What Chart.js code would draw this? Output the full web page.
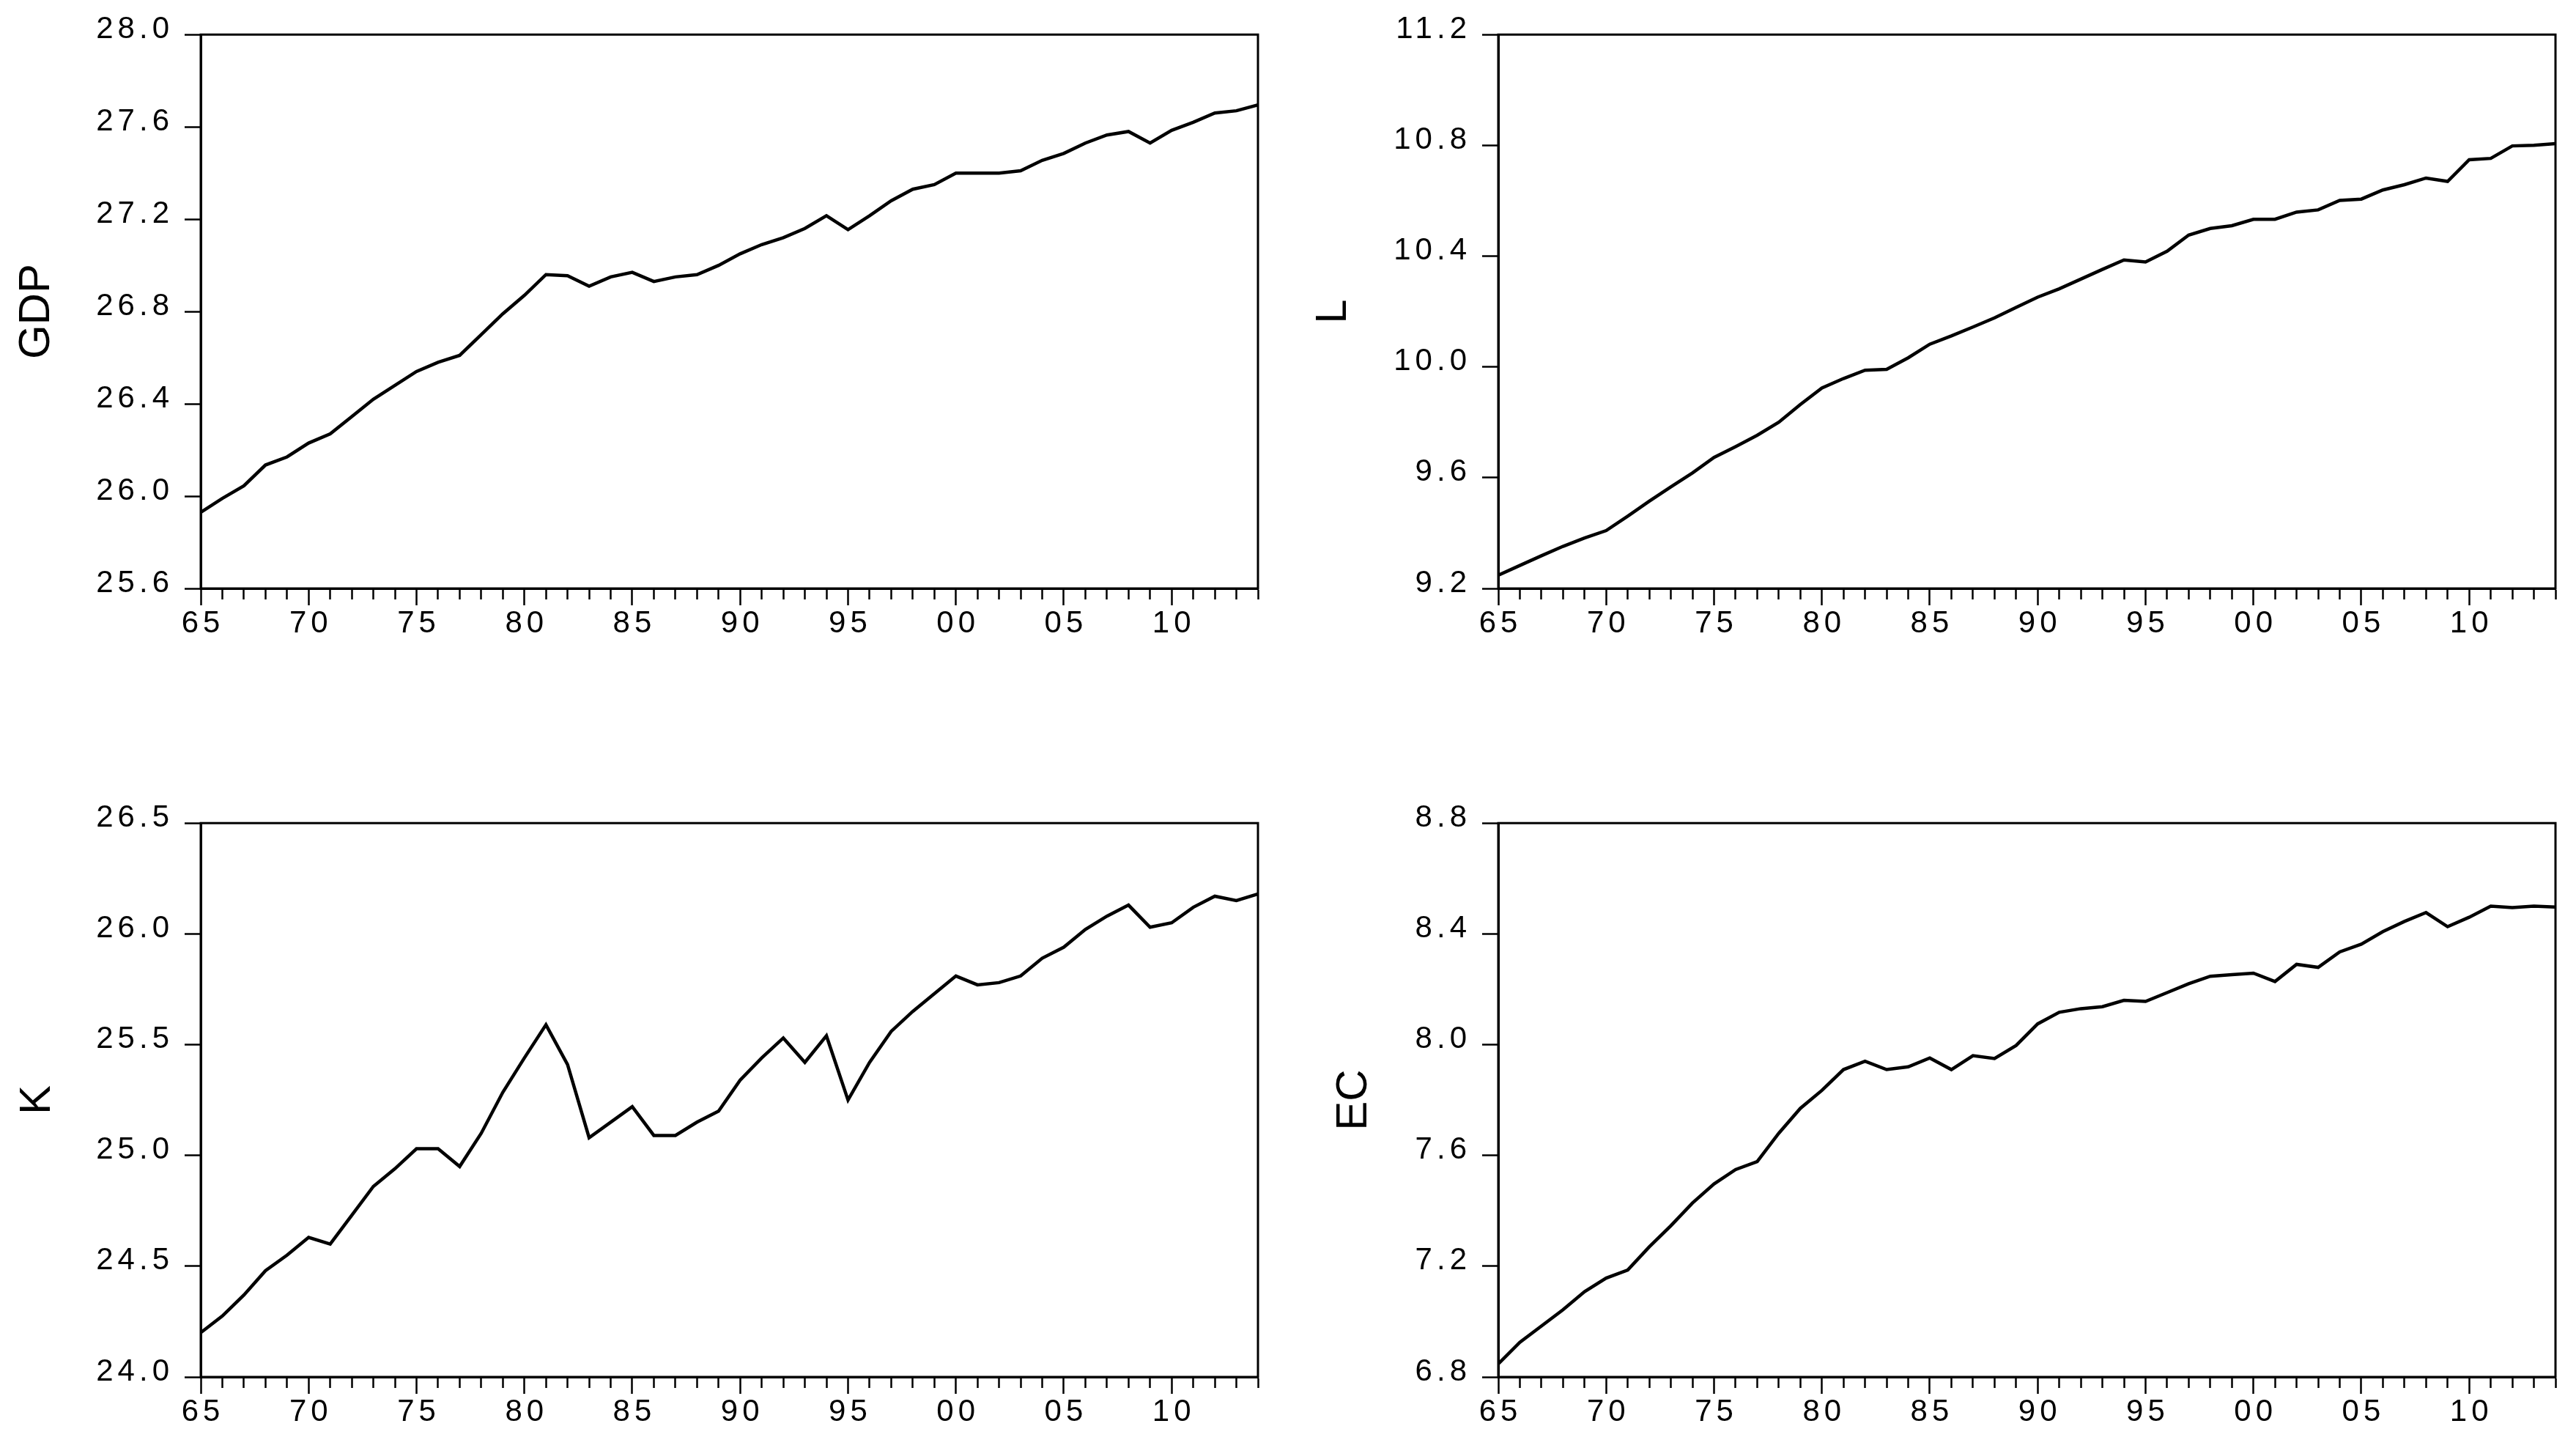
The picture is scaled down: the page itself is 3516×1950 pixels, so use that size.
<!DOCTYPE html>
<html>
<head>
<meta charset="utf-8">
<title>GDP, L, K, EC</title>
<script src="https://cdn.jsdelivr.net/npm/chart.js@4.4.1/dist/chart.umd.min.js"></script>
<style>
  html, body { margin: 0; padding: 0; background: #fff; overflow: hidden; }
  body { width: 3516px; height: 1950px; position: relative; }
  canvas { position: absolute; }
</style>
</head>
<body>
<canvas id="gdp" width="1733" height="896" style="left:4px;top:7px"></canvas>
<canvas id="labour" width="1733" height="896" style="left:1775px;top:7px"></canvas>
<canvas id="capital" width="1733" height="896" style="left:4px;top:1083px"></canvas>
<canvas id="energy" width="1733" height="896" style="left:1775px;top:1083px"></canvas>
<script>
// data, 1965-2014
const years = [1965, 1966, 1967, 1968, 1969, 1970, 1971, 1972, 1973, 1974, 1975, 1976, 1977, 1978, 1979,
  1980, 1981, 1982, 1983, 1984, 1985, 1986, 1987, 1988, 1989, 1990, 1991, 1992, 1993, 1994, 1995, 1996,
  1997, 1998, 1999, 2000, 2001, 2002, 2003, 2004, 2005, 2006, 2007, 2008, 2009, 2010, 2011, 2012, 2013, 2014];

const gdp = [25.93, 25.99, 26.045, 26.135, 26.17, 26.23, 26.27, 26.345, 26.42, 26.48, 26.54, 26.58, 26.61,
  26.70, 26.79, 26.87, 26.96, 26.955, 26.91, 26.95, 26.97, 26.93, 26.95, 26.96, 27.00, 27.05, 27.09, 27.12,
  27.16, 27.215, 27.155, 27.215, 27.28, 27.33, 27.35, 27.40, 27.40, 27.40, 27.41, 27.455, 27.485, 27.53,
  27.565, 27.58, 27.53, 27.585, 27.62, 27.66, 27.67, 27.695];

const labour = [9.248, 9.283, 9.318, 9.352, 9.382, 9.409, 9.461, 9.515, 9.567, 9.617, 9.673, 9.712, 9.753,
  9.80, 9.864, 9.924, 9.958, 9.988, 9.991, 10.033, 10.082, 10.112, 10.144, 10.177, 10.215, 10.252, 10.282,
  10.317, 10.352, 10.386, 10.379, 10.418, 10.476, 10.50, 10.51, 10.533, 10.533, 10.559, 10.567, 10.601,
  10.606, 10.639, 10.658, 10.682, 10.67, 10.748, 10.753, 10.798, 10.80, 10.806];

const capital = [24.20, 24.275, 24.37, 24.48, 24.55, 24.63, 24.60, 24.73, 24.86, 24.94, 25.03, 25.03, 24.95,
  25.10, 25.285, 25.44, 25.59, 25.41, 25.08, 25.15, 25.22, 25.09, 25.09, 25.15, 25.20, 25.34, 25.44, 25.53,
  25.42, 25.54, 25.25, 25.42, 25.56, 25.65, 25.73, 25.81, 25.77, 25.78, 25.81, 25.89, 25.94, 26.02, 26.08,
  26.13, 26.03, 26.05, 26.12, 26.17, 26.15, 26.18];

const energy = [6.847, 6.925, 6.984, 7.043, 7.108, 7.157, 7.186, 7.27, 7.346, 7.428, 7.497, 7.549, 7.578,
  7.68, 7.77, 7.835, 7.91, 7.94, 7.91, 7.92, 7.952, 7.91, 7.96, 7.95, 7.997, 8.075, 8.117, 8.13, 8.137,
  8.16, 8.156, 8.188, 8.22, 8.247, 8.253, 8.258, 8.228, 8.29, 8.279, 8.335, 8.363, 8.408, 8.445, 8.477,
  8.426, 8.46, 8.50, 8.495, 8.50, 8.497];

// y axis ranges and tick steps, one per panel
const gdpTicks = [25.6, 28.0, 0.4];
const labourTicks = [9.2, 11.2, 0.4];
const capitalTicks = [24.0, 26.5, 0.5];
const energyTicks = [6.8, 8.8, 0.4];

const FONT = "'Liberation Sans', Arial, sans-serif";
const TITLE_FONT = "'Liberation Sans Narrow', 'Arial Narrow', 'Liberation Sans', sans-serif";

// box round the plot area (top and right sides)
const frame = {
  id: 'frame',
  afterDatasetsDraw(chart) {
    const { ctx, chartArea: a } = chart;
    ctx.save();
    ctx.strokeStyle = '#000';
    ctx.lineWidth = 3;
    ctx.strokeRect(a.left, a.top, a.right - a.left, a.bottom - a.top);
    ctx.restore();
  }
};

// tick labels in the reference are loosely spaced
const spacedLabels = {
  id: 'spacedLabels',
  beforeDraw(chart) {
    Object.values(chart.scales).forEach(scale => {
      if (scale.$spaced) return;
      const draw = scale.drawLabels.bind(scale);
      scale.drawLabels = (area) => {
        scale.ctx.save();
        scale.ctx.letterSpacing = '6px';
        draw(area);
        scale.ctx.restore();
      };
      scale.$spaced = true;
    });
  }
};

const makePanel = (id, name, values, [min, max, step], titlePad) => new Chart(document.getElementById(id), {
  type: 'line',
  data: {
    datasets: [{
      data: years.map((y, i) => ({ x: y, y: values[i] })),
      borderColor: '#000',
      borderWidth: 4.5,
      pointRadius: 0,
      tension: 0,
      fill: false,
    }]
  },
  options: {
    responsive: false,
    animation: false,
    events: [],
    layout: { padding: { top: 40, right: 20, bottom: 0, left: 0 } },
    plugins: { legend: { display: false }, tooltip: { enabled: false } },
    scales: {
      x: {
        type: 'linear',
        min: years[0],
        max: years[years.length - 1],
        afterFit: (s) => { s.height = 100; },
        border: { display: true, color: '#000', width: 3 },
        grid: {
          drawOnChartArea: false,
          drawTicks: true,
          tickLength: 23,
          tickWidth: 2.5,
          tickColor: '#000',
          // minor (yearly) ticks are shorter than the 5-year ones
          tickBorderDash: (c) => (c.tick && c.tick.value % 5 === 0) ? [] : [13, 60],
        },
        ticks: {
          stepSize: 1,
          autoSkip: false,
          maxRotation: 0,
          padding: 0,
          labelOffset: 3,
          color: '#000',
          font: { family: FONT, size: 42 },
          callback: (v) => v % 5 === 0 ? String(v).slice(2) : '',
        },
      },
      y: {
        min,
        max,
        afterFit: (s) => { s.width = 270; },
        border: { display: true, color: '#000', width: 3 },
        grid: {
          drawOnChartArea: false,
          drawTicks: true,
          tickLength: 22,
          tickWidth: 2.5,
          tickColor: '#000',
        },
        ticks: {
          stepSize: step,
          padding: 15,
          labelOffset: -7,
          color: '#000',
          font: { family: FONT, size: 42 },
          callback: (v) => Number(v).toFixed(1),
        },
        title: {
          display: true,
          text: name,
          color: '#000',
          font: { family: TITLE_FONT, size: 60, lineHeight: 1 },
          padding: { top: titlePad, bottom: 0 },
        },
      },
    },
  },
  plugins: [frame, spacedLabels],
});

makePanel('gdp', 'GDP', gdp, gdpTicks, 16);
makePanel('labour', 'L', labour, labourTicks, 15);
makePanel('capital', 'K', capital, capitalTicks, 17);
makePanel('energy', 'EC', energy, energyTicks, 43);
</script>
</body>
</html>
